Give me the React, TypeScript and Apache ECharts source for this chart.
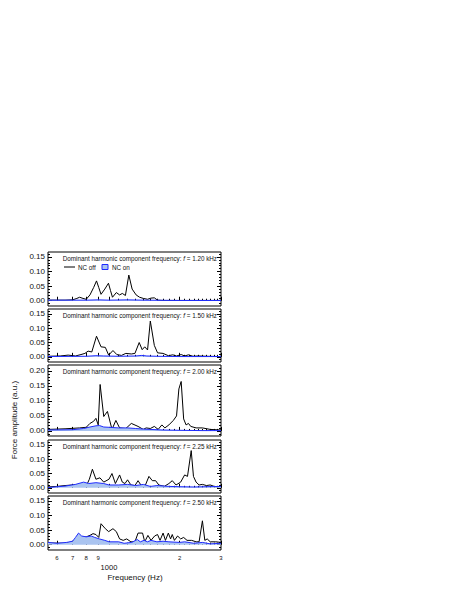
import React, { useEffect, useRef } from 'react';
import * as echarts from 'echarts';

// ---------- data ----------
const X_MIN = 550;
const X_MAX = 3000;
const X_MAJOR_TICKS = [600, 700, 800, 900, 1000, 2000, 3000];
const X_MINOR_TICKS = [1100, 1200, 1300, 1400, 1500, 1600, 1700, 1800, 1900, 2100, 2200, 2300, 2400, 2500, 2600, 2700, 2800, 2900];
const X_LABEL_VALUES = [600, 700, 800, 900, 1000, 2000, 3000];

const Y_LABELS_SMALL = [0, 0.05, 0.1, 0.15];
const Y_LABELS_LARGE = [0, 0.05, 0.1, 0.15, 0.2];
const Y_MINOR_SMALL = [-0.01, 0, 0.01, 0.02, 0.03, 0.04, 0.05, 0.06, 0.07, 0.08, 0.09, 0.1, 0.11, 0.12, 0.13, 0.14, 0.15, 0.16];
const Y_MINOR_LARGE = [-0.01, 0, 0.01, 0.02, 0.03, 0.04, 0.05, 0.06, 0.07, 0.08, 0.09, 0.1, 0.11, 0.12, 0.13, 0.14, 0.15, 0.16, 0.17, 0.18, 0.19, 0.2, 0.21];

const DOMINANT_FREQ = ['1.20', '1.50', '2.00', '2.25', '2.50'];

const p1Off = [[550,0.002],[600,0.002],[650,0.002],[700,0.003],[730,0.008],[750,0.012],[775,0.008],[800,0.005],[830,0.02],[860,0.045],[885,0.068],[905,0.045],[925,0.022],[960,0.04],[995,0.06],[1015,0.035],[1035,0.012],[1075,0.028],[1110,0.02],[1140,0.025],[1175,0.018],[1215,0.088],[1255,0.04],[1305,0.02],[1350,0.012],[1400,0.008],[1460,0.005],[1510,0.009],[1560,0.01],[1610,0.002],[1700,0.001],[2000,0.001],[2500,0.001],[3000,0.001]];
const p1On = [[550,0.002],[700,0.002],[800,0.002],[900,0.003],[1000,0.002],[1200,0.003],[1400,0.002],[2000,0.001],[3000,0.001]];

const p2Off = [[550,0.002],[620,0.003],[670,0.006],[720,0.003],[760,0.008],[790,0.012],[815,0.02],[845,0.017],[885,0.072],[925,0.035],[965,0.033],[997,0.006],[1040,0.022],[1080,0.008],[1130,0.005],[1180,0.012],[1245,0.01],[1290,0.012],[1345,0.05],[1385,0.025],[1420,0.035],[1460,0.024],[1500,0.125],[1560,0.04],[1610,0.014],[1700,0.012],[1790,0.004],[1870,0.007],[1940,0.003],[2030,0.008],[2100,0.003],[2180,0.007],[2280,0.002],[2400,0.003],[2600,0.002],[3000,0.001]];
const p2On = [[550,0.001],[800,0.002],[880,0.004],[950,0.003],[1100,0.002],[1300,0.003],[1380,0.005],[1450,0.003],[1600,0.002],[2000,0.001],[3000,0.001]];

const p3Off = [[550,0.005],[650,0.007],[750,0.01],[800,0.012],[830,0.025],[860,0.032],[880,0.042],[900,0.02],[917,0.155],[950,0.048],[985,0.065],[1030,0.005],[1070,0.035],[1110,0.01],[1180,0.008],[1245,0.025],[1330,0.015],[1400,0.005],[1440,0.01],[1500,0.008],[1560,0.015],[1620,0.005],[1680,0.02],[1730,0.01],[1800,0.02],[1880,0.035],[1940,0.05],[1985,0.14],[2030,0.165],[2080,0.04],[2130,0.02],[2180,0.025],[2230,0.015],[2350,0.01],[2500,0.01],[2700,0.005],[3000,0.003]];
const p3On = [[550,0.003],[700,0.004],[780,0.008],[830,0.013],[880,0.017],[910,0.018],[950,0.013],[1000,0.012],[1100,0.01],[1200,0.01],[1300,0.008],[1400,0.006],[1500,0.005],[1700,0.003],[2000,0.002],[2500,0.001],[3000,0.001]];

const p4Off = [[550,0.003],[600,0.005],[650,0.008],[700,0.01],[750,0.009],[800,0.006],[825,0.03],[850,0.065],[880,0.03],[915,0.035],[950,0.02],[1000,0.03],[1030,0.05],[1065,0.015],[1110,0.045],[1140,0.02],[1170,0.015],[1200,0.028],[1240,0.01],[1290,0.008],[1330,0.025],[1380,0.005],[1430,0.01],[1480,0.04],[1530,0.025],[1580,0.025],[1630,0.01],[1720,0.005],[1800,0.015],[1860,0.025],[1930,0.01],[2020,0.02],[2100,0.045],[2160,0.04],[2240,0.13],[2290,0.04],[2350,0.02],[2420,0.01],[2500,0.012],[2600,0.008],[2700,0.01],[2850,0.003],[3000,0.005]];
const p4On = [[550,0.001],[650,0.006],[720,0.012],[780,0.02],[820,0.015],[880,0.018],[950,0.015],[1000,0.01],[1100,0.01],[1200,0.012],[1300,0.008],[1400,0.012],[1500,0.005],[1600,0.008],[1800,0.005],[2000,0.004],[2300,0.003],[2600,0.004],[3000,0.005]];

const p5Off = [[550,0.006],[650,0.005],[700,0.01],[730,0.02],[745,0.033],[770,0.026],[800,0.027],[830,0.032],[855,0.038],[880,0.035],[905,0.025],[925,0.072],[965,0.055],[997,0.045],[1040,0.055],[1075,0.045],[1110,0.02],[1150,0.015],[1190,0.02],[1240,0.01],[1290,0.01],[1330,0.04],[1390,0.04],[1420,0.01],[1465,0.032],[1510,0.015],[1565,0.03],[1610,0.035],[1650,0.015],[1700,0.04],[1740,0.015],[1790,0.04],[1830,0.02],[1860,0.035],[1900,0.015],[1960,0.03],[2020,0.02],[2080,0.025],[2150,0.015],[2250,0.015],[2350,0.01],[2420,0.01],[2500,0.082],[2560,0.015],[2620,0.02],[2700,0.01],[2850,0.01],[3000,0.008]];
const p5On = [[550,0.008],[600,0.005],[660,0.008],[700,0.012],[720,0.025],[742,0.04],[765,0.03],[800,0.027],[840,0.03],[870,0.025],[910,0.02],[960,0.015],[1000,0.01],[1100,0.01],[1160,0.005],[1250,0.008],[1320,0.018],[1360,0.01],[1410,0.015],[1460,0.01],[1510,0.015],[1600,0.01],[1700,0.012],[1800,0.01],[2000,0.008],[2100,0.01],[2300,0.005],[2500,0.008],[2700,0.003],[3000,0.005]];

const OFF_SERIES = [p1Off, p2Off, p3Off, p4Off, p5Off];
const ON_SERIES = [p1On, p2On, p3On, p4On, p5On];

// ---------- layout ----------
const FONT = 'Liberation Sans, Arial, Helvetica, sans-serif';
const GRID_LEFT = 48;
const GRID_WIDTH = 173;
const PANEL_TOP = [252, 309, 365, 440, 496];
const PANEL_HEIGHT = [54, 53, 71, 53, 54];
const Y_MIN = [-0.018, -0.018, -0.017, -0.018, -0.018];
const Y_MAX = [0.167, 0.167, 0.22, 0.167, 0.167];
const BLUE = '#1f2bff';
const BLUE_FILL = '#aac4f0';
const TEXT = '#111';

function buildOption() {
  const grid: any[] = [];
  const xAxis: any[] = [];
  const yAxis: any[] = [];
  const series: any[] = [];
  const graphic: any[] = [];

  for (let i = 0; i < 5; i++) {
    grid.push({
      left: GRID_LEFT, top: PANEL_TOP[i], width: GRID_WIDTH, height: PANEL_HEIGHT[i],
      show: true, borderColor: '#000', borderWidth: 1, backgroundColor: 'transparent',
      containLabel: false,
    });
    const isLast = i === 4;
    const xBase = {
      gridIndex: i, type: 'log', logBase: 10, min: X_MIN, max: X_MAX, position: 'bottom',
      axisLine: { show: false }, splitLine: { show: false }, minorTick: { show: false },
    };
    xAxis.push({
      ...xBase,
      axisTick: { show: true, inside: true, length: 4, lineStyle: { color: '#000', width: 1 }, customValues: X_MAJOR_TICKS },
      axisLabel: {
        show: isLast, customValues: X_LABEL_VALUES, margin: 3,
        color: TEXT, fontFamily: FONT, fontSize: 6, fontWeight: 'normal', lineHeight: 9,
        formatter: (v: number) => {
          const r = Math.round(v);
          if (r === 1000) return '\n{big|1000}';
          if (r >= 1000) return String(Math.round(r / 1000));
          return String(Math.round(r / 100));
        },
        rich: { big: { fontSize: 7.5, fontFamily: FONT, fontWeight: 'normal', color: TEXT, lineHeight: 10 } },
      },
    });
    xAxis.push({
      ...xBase,
      axisTick: { show: true, inside: true, length: 2, lineStyle: { color: '#000', width: 1 }, customValues: X_MINOR_TICKS },
      axisLabel: { show: false },
    });

    const labels = i === 2 ? Y_LABELS_LARGE : Y_LABELS_SMALL;
    const minors = i === 2 ? Y_MINOR_LARGE : Y_MINOR_SMALL;
    const yBase = {
      gridIndex: i, type: 'value', min: Y_MIN[i], max: Y_MAX[i],
      axisLine: { show: false }, splitLine: { show: false },
    };
    yAxis.push({
      ...yBase, position: 'left',
      axisTick: { show: true, inside: true, length: 4, lineStyle: { color: '#000' }, customValues: labels },
      axisLabel: {
        show: true, customValues: labels, margin: 3, color: TEXT, fontFamily: FONT, fontSize: 8, fontWeight: 'normal',
        formatter: (v: number) => v.toFixed(2),
      },
    });
    yAxis.push({
      ...yBase, position: 'left',
      axisTick: { show: true, inside: true, length: 2, lineStyle: { color: '#000' }, customValues: minors },
      axisLabel: { show: false },
    });
    yAxis.push({
      ...yBase, position: 'right',
      axisTick: { show: true, inside: true, length: 4, lineStyle: { color: '#000' }, customValues: labels },
      axisLabel: { show: false },
    });
    yAxis.push({
      ...yBase, position: 'right',
      axisTick: { show: true, inside: true, length: 2, lineStyle: { color: '#000' }, customValues: minors },
      axisLabel: { show: false },
    });

    series.push({
      name: 'NC off', type: 'line', xAxisIndex: 2 * i, yAxisIndex: 4 * i,
      data: OFF_SERIES[i], symbol: 'none', z: 3,
      lineStyle: { color: '#000', width: 1 },
    });
    series.push({
      name: 'NC on', type: 'line', xAxisIndex: 2 * i, yAxisIndex: 4 * i,
      data: ON_SERIES[i], symbol: 'none', z: 4,
      lineStyle: { color: BLUE, width: 1 },
      areaStyle: { color: BLUE_FILL, opacity: 1 },
    });

    graphic.push({
      type: 'text', right: 463 - 217, top: PANEL_TOP[i] + 3,
      style: {
        text: `Dominant harmonic component frequency: {i|f} = ${DOMINANT_FREQ[i]} kHz`,
        fontFamily: FONT, fontSize: 6.3, fontWeight: 'normal', fill: TEXT,
        rich: { i: { fontStyle: 'italic', fontFamily: FONT, fontSize: 6.3, fontWeight: 'normal', fill: TEXT } },
      },
      z: 10,
    });
  }

  // legend (panel 1)
  graphic.push({ type: 'line', shape: { x1: 64, y1: 267, x2: 75, y2: 267 }, style: { stroke: '#000', lineWidth: 1 }, z: 10 });
  graphic.push({ type: 'text', x: 78, y: 267, style: { text: 'NC off', fontFamily: FONT, fontSize: 6.3, fontWeight: 'normal', fill: TEXT, verticalAlign: 'middle' }, z: 10 });
  graphic.push({ type: 'rect', shape: { x: 102, y: 264.5, width: 6, height: 5 }, style: { fill: BLUE_FILL, stroke: BLUE, lineWidth: 1 }, z: 10 });
  graphic.push({ type: 'text', x: 112, y: 267, style: { text: 'NC on', fontFamily: FONT, fontSize: 6.3, fontWeight: 'normal', fill: TEXT, verticalAlign: 'middle' }, z: 10 });

  // axis titles
  graphic.push({
    type: 'text', x: 14, y: 420, rotation: Math.PI / 2,
    style: { text: 'Force amplitude (a.u.)', fontFamily: FONT, fontSize: 8, fontWeight: 'normal', fill: TEXT, align: 'center', verticalAlign: 'middle' },
  });
  graphic.push({
    type: 'text', x: 135, y: 577,
    style: { text: 'Frequency (Hz)', fontFamily: FONT, fontSize: 8, fontWeight: 'normal', fill: TEXT, align: 'center', verticalAlign: 'middle' },
  });

  return {
    animation: false,
    backgroundColor: '#fff',
    grid, xAxis, yAxis, series, graphic,
  };
}

export default function App() {
  const ref = useRef<HTMLDivElement>(null);
  useEffect(() => {
    if (!ref.current) return;
    const chart = echarts.init(ref.current, null, { renderer: 'svg' });
    chart.setOption(buildOption() as any);
    return () => chart.dispose();
  }, []);
  return <div ref={ref} style={{ position: 'absolute', left: 0, top: 0, width: 463, height: 599 }} />;
}
